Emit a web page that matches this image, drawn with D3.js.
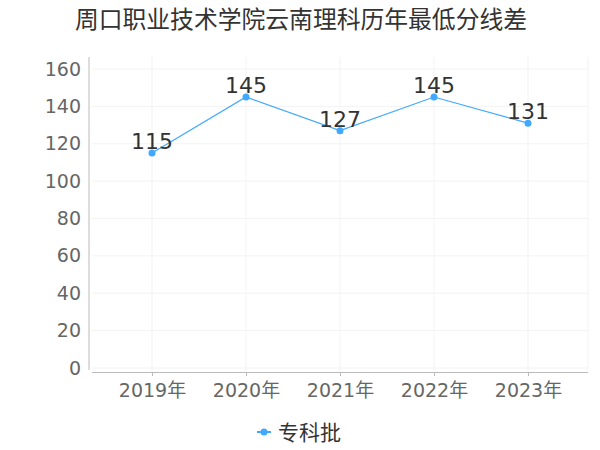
<!DOCTYPE html>
<meta charset="utf-8">
<style>
body { margin: 0; background: #fff; }
text { font-family: "DejaVu Sans", "Noto Sans CJK SC", sans-serif; }
</style>
<svg width="600" height="450"></svg>
<script src="https://d3js.org/d3.v7.min.js"></script>
<script>

var years = ["2019年", "2020年", "2021年", "2022年", "2023年"];
var scores = [115, 145, 127, 145, 131];
var yTicks = [0, 20, 40, 60, 80, 100, 120, 140, 160];
var seriesName = "专科批";
var title = "周口职业技术学院云南理科历年最低分线差";

var svg = d3.select("svg");
var color = "#40a9ff";

var x = d3.scalePoint().domain(years).range([152, 528]);
var y = d3.scaleLinear().domain([0, 160]).range([368, 69]);

svg.append("text")
    .attr("x", 301).attr("y", 28)
    .attr("text-anchor", "middle")
    .attr("font-size", 23.8)
    .attr("fill", "#333")
    .text(title);

// grid
svg.append("g").selectAll("line.h")
    .data(yTicks)
    .enter().append("line")
    .attr("x1", 92).attr("x2", 588)
    .attr("y1", function(d) { return y(d); })
    .attr("y2", function(d) { return y(d); })
    .attr("stroke", "#f3f3f3");

svg.append("g").selectAll("line.v")
    .data(years)
    .enter().append("line")
    .attr("x1", function(d) { return x(d); })
    .attr("x2", function(d) { return x(d); })
    .attr("y1", 57).attr("y2", 372)
    .attr("stroke", "#f3f3f3");

svg.append("line")
    .attr("x1", 588).attr("x2", 588).attr("y1", 57).attr("y2", 372)
    .attr("stroke", "#f3f3f3");

// y axis
var yAxis = svg.append("g")
    .attr("transform", "translate(89,0)")
    .call(d3.axisLeft(y).tickValues(yTicks).tickSize(0).tickPadding(8));
yAxis.select(".domain").remove();
yAxis.selectAll("text").attr("font-size", 19).attr("fill", "#666")
    .style("font-family", "DejaVu Sans, sans-serif");
svg.append("line")
    .attr("x1", 89).attr("x2", 89).attr("y1", 57).attr("y2", 370)
    .attr("stroke", "#bbb");

// x axis
var xAxis = svg.append("g")
    .attr("transform", "translate(0,372)")
    .call(d3.axisBottom(x).tickSize(4).tickPadding(8));
xAxis.select(".domain").attr("d", "M92,0.5H588").attr("stroke", "#bbb");
xAxis.selectAll(".tick line").attr("stroke", "#bbb");
xAxis.selectAll("text").attr("font-size", 19).attr("fill", "#666")
    .style("font-family", "DejaVu Sans, Noto Sans CJK SC, sans-serif");

// line
var line = d3.line()
    .x(function(d, i) { return x(years[i]); })
    .y(function(d) { return y(d); });

svg.append("path")
    .datum(scores)
    .attr("d", line)
    .attr("fill", "none")
    .attr("stroke", color)
    .attr("stroke-width", 1.2);

svg.selectAll("circle.pt")
    .data(scores)
    .enter().append("circle")
    .attr("cx", function(d, i) { return x(years[i]); })
    .attr("cy", function(d) { return y(d); })
    .attr("r", 3.5)
    .attr("fill", color);

svg.selectAll("text.lbl")
    .data(scores)
    .enter().append("text")
    .attr("x", function(d, i) { return x(years[i]); })
    .attr("y", function(d) { return y(d) - 4; })
    .attr("text-anchor", "middle")
    .attr("font-size", 22)
    .attr("fill", "#333")
    .text(function(d) { return d; });

// legend
var lg = svg.append("g").attr("transform", "translate(264,432)");
lg.append("line").attr("x1", -7).attr("x2", 7).attr("stroke", color).attr("stroke-width", 2);
lg.append("circle").attr("r", 3.5).attr("fill", color);
lg.append("text")
    .attr("x", 14).attr("y", 7.5)
    .attr("font-size", 21)
    .attr("fill", "#333")
    .text(seriesName);

</script>
